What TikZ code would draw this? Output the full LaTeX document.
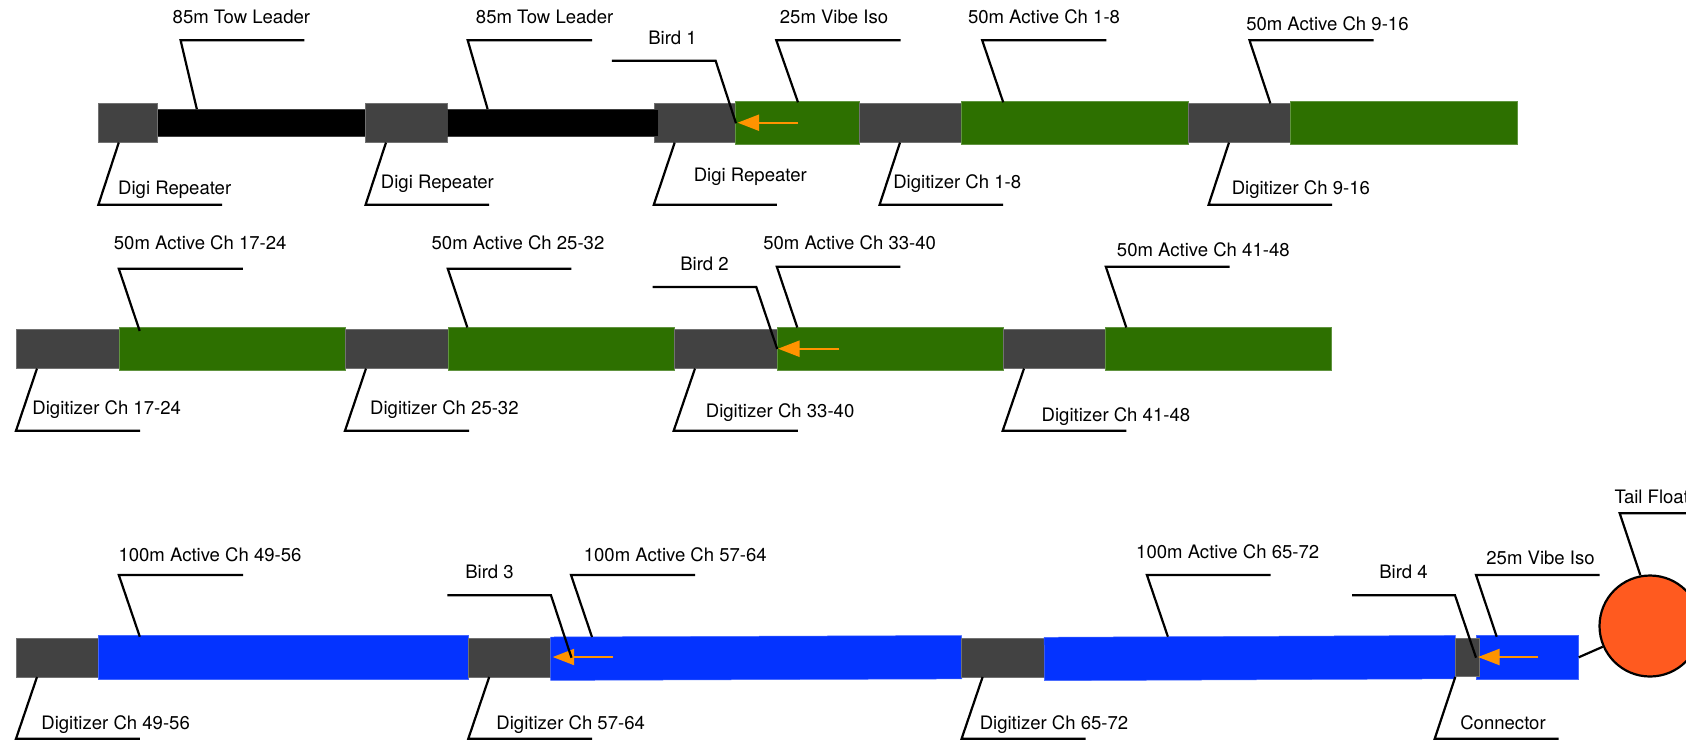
\documentclass[tikz,border=0pt]{standalone}
\usepackage{fontspec}
\setmainfont{TeX Gyre Heros}
\usetikzlibrary{arrows.meta}
\definecolor{cgray}{HTML}{424242}
\definecolor{cblack}{HTML}{000000}
\definecolor{cgreen}{HTML}{2D7000}
\definecolor{cblue}{HTML}{0433FF}
\definecolor{corange}{HTML}{FF9300}
\definecolor{cfloat}{HTML}{FF5A1F}
\tikzset{
  segbox/.style={inner sep=0pt,outer sep=0pt,anchor=north west,line width=0.5pt},
  leaderline/.style={draw=black,line width=2.2pt,line join=miter},
  labeltext/.style={inner sep=0pt,outer sep=0pt,anchor=base,text=black,font=\fontsize{18.55pt}{22pt}\selectfont},
  birdarrow/.style={draw=corange,line width=2.2pt,-{Triangle[length=21.5pt,width=16pt,fill=corange]}},
  floatball/.style={circle,draw=black,line width=2.2pt,fill=cfloat,minimum size=101pt,inner sep=0pt}
}
\newcommand{\seg}[7][0]{\node[segbox,fill=#3,draw=#3!75!white,rotate=#1,minimum width={(#6-#4)*1pt},minimum height={(#7-#5)*1pt}] (#2) at (#4,#5) {};}
\newcommand{\lead}[7]{%
  \coordinate (#1a) at (#2,#3);\coordinate (#1b) at (#4,#5);\coordinate (#1c) at (#6,#7);
  \draw[leaderline] (#1a) -- (#1b) -- (#1c);}
\newcommand{\lab}[4]{\node[labeltext] (#1) at (#2,#3+6.5) {#4};}
\newcommand{\bird}[4]{\coordinate (#1t) at (#2,#4);\coordinate (#1h) at (#3,#4);\draw[birdarrow] (#1t) -- (#1h);}
\begin{document}
\begin{tikzpicture}[x=1pt,y=-1pt]
\useasboundingbox (0,0) rectangle (1686,740);
% row 1
\seg{blackA}{cblack}{157.5}{109}{366}{136.5}
\seg{g1}{cgray}{98.4}{103}{157.5}{142}
\seg{g2}{cgray}{365.6}{103}{447.5}{142}
\seg{g3}{cgray}{653.8}{103.5}{735.5}{142}
\seg{blackB}{cblack}{447.5}{109}{658}{136.5}
\seg{gr1}{cgreen}{735.5}{101}{859}{144}
\seg{g4}{cgray}{859}{103.5}{961.3}{142}
\seg{gr2}{cgreen}{961.3}{101}{1188}{144}
\seg{g5}{cgray}{1188}{103.5}{1290.6}{142}
\seg{gr3}{cgreen}{1290.6}{101}{1517}{144.5}
% row 2
\seg{g6}{cgray}{16}{329.3}{118.8}{368.3}
\seg{gr4}{cgreen}{118.8}{327.3}{345}{370.3}
\seg{g7}{cgray}{345}{329.3}{447.8}{368.3}
\seg{gr5}{cgreen}{447.8}{327.3}{674}{370.3}
\seg{g8}{cgray}{674}{329.3}{776.8}{368.3}
\seg{gr6}{cgreen}{776.8}{327.3}{1003}{370.3}
\seg{g9}{cgray}{1003}{329.3}{1105.4}{368.3}
\seg{gr7}{cgreen}{1105.4}{327.3}{1331.7}{370.3}
% row 3
\seg{g10}{cgray}{16}{638}{98.4}{677}
\seg{b1}{cblue}{98.4}{635.7}{468.3}{679}
\seg{g11}{cgray}{468.3}{638}{550.5}{677}
\seg[0.21]{b2}{cblue}{550.5}{637}{961.6}{680.4}
\seg{g12}{cgray}{961.6}{638}{1044.2}{677}
\seg[0.26]{b3}{cblue}{1044.2}{637.3}{1455.3}{680.7}
\seg{b4}{cblue}{1476}{635.3}{1578.7}{679}
\seg{g13}{cgray}{1455.3}{638}{1479.7}{676.7}
\node[floatball] (float) at (1650,626) {};
\coordinate (tie) at (1578.7,657.3);
\draw[leaderline] (tie) -- (float);
% bird arrows
\bird{ar1}{798}{737.6}{122.7}
\bird{ar2}{839.3}{778}{348.7}
\bird{ar3}{613}{552.7}{657}
\bird{ar4}{1538.3}{1478}{657}
% leaders row 1
\lead{t1}{304.3}{40.3}{180.6}{40.3}{196.8}{109}
\lead{t2}{592}{40.3}{467.7}{40.3}{487.6}{109}
\lead{t3}{611.8}{60.7}{715.6}{60.7}{736}{123.3}
\lead{t4}{900.5}{40.3}{776.3}{40.3}{798}{102.3}
\lead{t5}{1106.4}{40.3}{982.2}{40.3}{1003.2}{102.3}
\lead{t6}{1373.6}{40.3}{1249.5}{40.3}{1270.4}{103.5}
\lead{u1}{118.8}{142.5}{98.4}{204.7}{222}{204.7}
\lead{u2}{386}{142.5}{365.6}{204.7}{489.2}{204.7}
\lead{u3}{674.7}{142.5}{653.8}{204.7}{776.9}{204.7}
\lead{u4}{900}{142.5}{879.6}{204.7}{1003.2}{204.7}
\lead{u5}{1229}{142.5}{1208.6}{204.7}{1332.2}{204.7}
% leaders row 2
\lead{v1}{242.9}{268.7}{118.8}{268.7}{139.7}{331}
\lead{v2}{571.4}{268.7}{447.8}{268.7}{467.4}{327.5}
\lead{v3}{652.7}{287}{756.3}{287}{777.2}{349}
\lead{v4}{900.4}{266.7}{776.8}{266.7}{797.3}{327.5}
\lead{v5}{1229.5}{266.7}{1105.8}{266.7}{1126.3}{327.5}
\lead{w1}{37}{368.5}{16}{430.7}{140.2}{430.7}
\lead{w2}{366}{368.5}{345}{430.7}{469.2}{430.7}
\lead{w3}{695}{368.5}{673.7}{430.7}{797.8}{430.7}
\lead{w4}{1024}{368.5}{1002.7}{430.7}{1126.3}{430.7}
% leaders row 3
\lead{x1}{243}{575}{118.8}{575}{139.8}{636.7}
\lead{x2}{447.3}{595.3}{551}{595.3}{571.5}{657.7}
\lead{x3}{695.2}{575}{571}{575}{592}{637}
\lead{x4}{1270.5}{575}{1146.9}{575}{1167.9}{636.7}
\lead{x5}{1352}{595.3}{1455}{595.3}{1476}{657.7}
\lead{x6}{1599.7}{575}{1476}{575}{1496.7}{636.7}
\lead{x7}{1745}{513.3}{1619.7}{513.3}{1640.3}{575}
\lead{y1}{37}{677}{16}{738.7}{139.8}{738.7}
\lead{y2}{489.2}{677}{468.3}{738.7}{592}{738.7}
\lead{y3}{982.6}{677}{961.6}{738.7}{1085.7}{738.7}
\lead{y4}{1455.3}{677}{1434.7}{738.7}{1558.7}{738.7}
% labels
\lab{l1}{241.4}{17}{85m Tow Leader}
\lab{l2}{544.6}{17}{85m Tow Leader}
\lab{l3}{672.5}{37.7}{Bird 1}
\lab{l4}{834}{17}{25m Vibe Iso}
\lab{l5}{1044}{17}{50m Active Ch 1-8}
\lab{l6}{1327.4}{24}{50m Active Ch 9-16}
\lab{l7}{174.7}{188}{Digi Repeater}
\lab{l8}{437.4}{182.3}{Digi Repeater}
\lab{l9}{750.3}{175.3}{Digi Repeater}
\lab{l10}{957.2}{182.3}{Digitizer Ch 1-8}
\lab{l11}{1300.8}{188}{Digitizer Ch 9-16}
\lab{l12}{200.2}{243.3}{50m Active Ch 17-24}
\lab{l13}{518}{243.3}{50m Active Ch 25-32}
\lab{l14}{704.5}{264}{Bird 2}
\lab{l15}{849.6}{243.3}{50m Active Ch 33-40}
\lab{l16}{1203.3}{250}{50m Active Ch 41-48}
\lab{l17}{106.7}{408.3}{Digitizer Ch 17-24}
\lab{l18}{444.4}{408.3}{Digitizer Ch 25-32}
\lab{l19}{780.1}{411.3}{Digitizer Ch 33-40}
\lab{l20}{1115.9}{415}{Digitizer Ch 41-48}
\lab{l21}{210}{555}{100m Active Ch 49-56}
\lab{l22}{489.5}{572}{Bird 3}
\lab{l23}{675.3}{555}{100m Active Ch 57-64}
\lab{l24}{1227.7}{552.3}{100m Active Ch 65-72}
\lab{l25}{1403.5}{572}{Bird 4}
\lab{l26}{1540.5}{557.7}{25m Vibe Iso}
\lab{l27}{1651.7}{496.7}{Tail Float}
\lab{l28}{115.6}{723}{Digitizer Ch 49-56}
\lab{l29}{570.7}{723}{Digitizer Ch 57-64}
\lab{l30}{1054}{722.7}{Digitizer Ch 65-72}
\lab{l31}{1503}{723.3}{Connector}
\end{tikzpicture}
\end{document}
